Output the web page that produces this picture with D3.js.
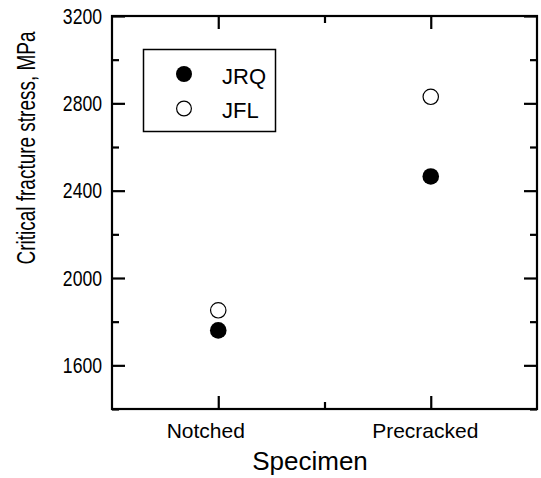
<!DOCTYPE html>
<html>
<head>
<meta charset="utf-8">
<script src="https://cdn.jsdelivr.net/npm/d3@7"></script>
<style>
  html, body { margin: 0; padding: 0; background: #fff; }
  svg { display: block; font-family: Arial, "Liberation Sans", Helvetica, sans-serif; }
</style>
</head>
<body>
<svg id="chart" width="541" height="478"></svg>
<script>
// Specimen types and measured critical fracture stress (MPa)
const categories = ["Notched", "Precracked"];
const seriesNames = ["JRQ", "JFL"];
const jrqValues = [1760, 2465];
const jflValues = [1852, 2830];
const yTicks = [1600, 2000, 2400, 2800, 3200];
const yMinorTicks = [1400, 1800, 2200, 2600, 3000];
const xMinorTicks = [1.5];

const svg = d3.select("#chart");
const margin = { left: 112, right: 4, top: 16, bottom: 69 };
const W = 541, H = 478;
const x0 = margin.left, x1 = W - margin.right;
const y0 = H - margin.bottom, y1 = margin.top;

const x = d3.scaleLinear().domain([0.5, 2.5]).range([x0, x1]);
const y = d3.scaleLinear().domain([1400, 3200]).range([y0, y1]);

const majorLen = 13, minorLen = 7, lw = 2.2;
const catPos = categories.map((c, i) => i + 1);
const fontStack = "Arial, 'Liberation Sans', sans-serif";

function tickLayer(axis, tx, ty) {
  const g = svg.append("g").attr("transform", `translate(${tx},${ty})`).call(axis);
  g.select(".domain").remove();
  g.selectAll(".tick line").attr("stroke-width", lw);
  return g;
}

// Frame
svg.append("rect")
  .attr("x", x0).attr("y", y1)
  .attr("width", x1 - x0).attr("height", y0 - y1)
  .attr("fill", "none").attr("stroke", "#000").attr("stroke-width", lw);

// Left axis: inward ticks, narrow numeric labels
const gl = tickLayer(d3.axisLeft(y).tickValues(yTicks).tickSize(-majorLen).tickFormat(d3.format("d")), x0, 0);
gl.selectAll(".tick text")
  .attr("x", null)
  .attr("transform", "translate(-10,0) scale(0.8,1)")
  .attr("font-size", 22).attr("fill", "#000").attr("font-family", fontStack);
tickLayer(d3.axisLeft(y).tickValues(yMinorTicks).tickSize(-minorLen).tickFormat(""), x0, 0);

// Right axis mirror ticks
tickLayer(d3.axisRight(y).tickValues(yTicks).tickSize(-majorLen).tickFormat(""), x1, 0);
tickLayer(d3.axisRight(y).tickValues(yMinorTicks).tickSize(-minorLen).tickFormat(""), x1, 0);

// Bottom axis with category labels
const gb = tickLayer(d3.axisBottom(x).tickValues(catPos).tickSize(-majorLen).tickPadding(14)
  .tickFormat((d, i) => categories[i]), 0, y0);
gb.selectAll(".tick text").attr("font-size", 21).attr("fill", "#000")
  .attr("font-family", fontStack)
  .attr("dx", (d, i) => i === 0 ? -13 : -6);
tickLayer(d3.axisBottom(x).tickValues(xMinorTicks).tickSize(-minorLen).tickFormat(""), 0, y0);

// Top axis mirror ticks
tickLayer(d3.axisTop(x).tickValues(catPos).tickSize(-majorLen).tickFormat(""), 0, y1);
tickLayer(d3.axisTop(x).tickValues(xMinorTicks).tickSize(-minorLen).tickFormat(""), 0, y1);

// Axis titles
svg.append("text")
  .attr("x", 310).attr("y", 470)
  .attr("text-anchor", "middle").attr("font-size", 26).attr("fill", "#000")
  .text("Specimen");
svg.append("text")
  .attr("transform", "translate(35,148) rotate(-90) scale(0.73,1)")
  .attr("text-anchor", "middle").attr("font-size", 26).attr("fill", "#000")
  .text("Critical fracture stress, MPa");

// Data points
const r = 8.3;
svg.append("g").selectAll("circle.jfl")
  .data(jflValues).join("circle")
  .attr("class", "jfl")
  .attr("cx", (d, i) => x(catPos[i])).attr("cy", d => y(d)).attr("r", r - 0.6)
  .attr("fill", "#fff").attr("stroke", "#000").attr("stroke-width", 1.2);
svg.append("g").selectAll("circle.jrq")
  .data(jrqValues).join("circle")
  .attr("class", "jrq")
  .attr("cx", (d, i) => x(catPos[i])).attr("cy", d => y(d)).attr("r", r)
  .attr("fill", "#000");

// Legend
const legend = svg.append("g");
legend.append("rect")
  .attr("x", 143.5).attr("y", 49.5).attr("width", 132).attr("height", 82)
  .attr("fill", "#fff").attr("stroke", "#000").attr("stroke-width", 1.5);
const legendRows = [
  { name: seriesNames[0], fill: "#000", stroke: "none", cy: 74 },
  { name: seriesNames[1], fill: "#fff", stroke: "#000", cy: 108.5 }
];
legendRows.forEach(row => {
  legend.append("circle")
    .attr("cx", 184).attr("cy", row.cy).attr("r", row.stroke === "none" ? 8 : 7.4)
    .attr("fill", row.fill).attr("stroke", row.stroke).attr("stroke-width", 1.2);
  legend.append("text")
    .attr("x", 222).attr("y", row.cy + 9.5)
    .attr("font-size", 22).attr("fill", "#000")
    .text(row.name);
});
</script>
</body>
</html>
